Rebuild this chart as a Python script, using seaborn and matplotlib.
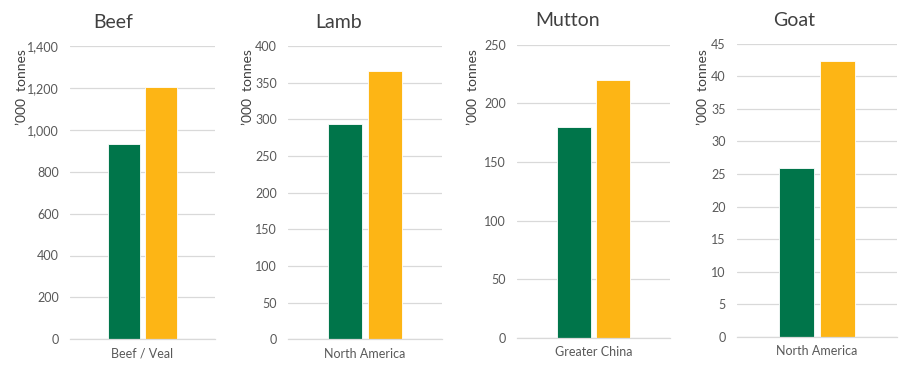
import matplotlib
matplotlib.use("Agg")
import matplotlib.pyplot as plt
import seaborn as sns
import pandas as pd
from matplotlib.ticker import FuncFormatter

# ---- data ----
panel_titles = ["Beef", "Lamb", "Mutton", "Goat"]
categories = ["Beef / Veal", "North America", "Greater China", "North America"]
series_names = ["Series 1", "Series 2"]
series1_values = [932, 294, 180, 26]
series2_values = [1203, 366, 220, 42.3]
y_max = [1400, 400, 250, 45]
y_step = [200, 50, 50, 5]

colors = ["#00754A", "#FDB515"]

sns.set_theme(style="white")
plt.rcParams['font.family'] = ['Lato', 'DejaVu Sans']

W, H = 908, 368
fig = plt.figure(figsize=(W / 100, H / 100), dpi=100)

# axes boxes in pixels: left, right, top, bottom
boxes = [(70, 215, 46, 339.3), (288, 442, 46, 339.3),
         (517, 670, 44.7, 337.7), (737, 897, 43.7, 337)]
title_pos = [(113, 23), (339, 23), (568, 21), (794, 20)]
ylabel_x = [22, 248, 473, 703]

for i in range(4):
    l, r, t, b = boxes[i]
    ax = fig.add_axes([l / W, 1 - b / H, (r - l) / W, (b - t) / H])
    df = pd.DataFrame({
        "category": [categories[i]] * 2,
        "series": series_names,
        "value": [series1_values[i], series2_values[i]],
    })
    sns.barplot(data=df, x="category", y="value", hue="series",
                palette=colors, saturation=1, width=0.51, gap=0.13, ax=ax,
                edgecolor="white", linewidth=0.6, legend=False)
    ax.set_xlim(-0.5, 0.5)
    ax.set_ylim(0, y_max[i])
    ticks = list(range(0, y_max[i] + 1, y_step[i]))
    ax.set_yticks(ticks)
    ax.yaxis.set_major_formatter(FuncFormatter(lambda v, p: f"{int(v):,}"))
    ax.grid(axis="y", color="#d9d9d9", linewidth=0.9)
    ax.set_axisbelow(True)
    for s in ["top", "right", "left"]:
        ax.spines[s].set_visible(False)
    ax.spines["bottom"].set_color("#d9d9d9")
    ax.spines["bottom"].set_linewidth(0.9)
    ax.tick_params(axis="both", length=0, labelsize=9, colors="#595959")
    ax.tick_params(axis="y", pad=8)
    ax.tick_params(axis="x", pad=6)
    ax.set_xlabel("")
    ax.set_ylabel("")
    tx, ty = title_pos[i]
    fig.text(tx / W, 1 - ty / H, panel_titles[i], ha="center", va="center",
             fontsize=14, color="#404040")
    fig.text(ylabel_x[i] / W, 1 - 87 / H, "\u2019000  tonnes", rotation=90,
             ha="center", va="center", fontsize=10, color="#404040")

fig.savefig("out.png", dpi=100, facecolor="white")
